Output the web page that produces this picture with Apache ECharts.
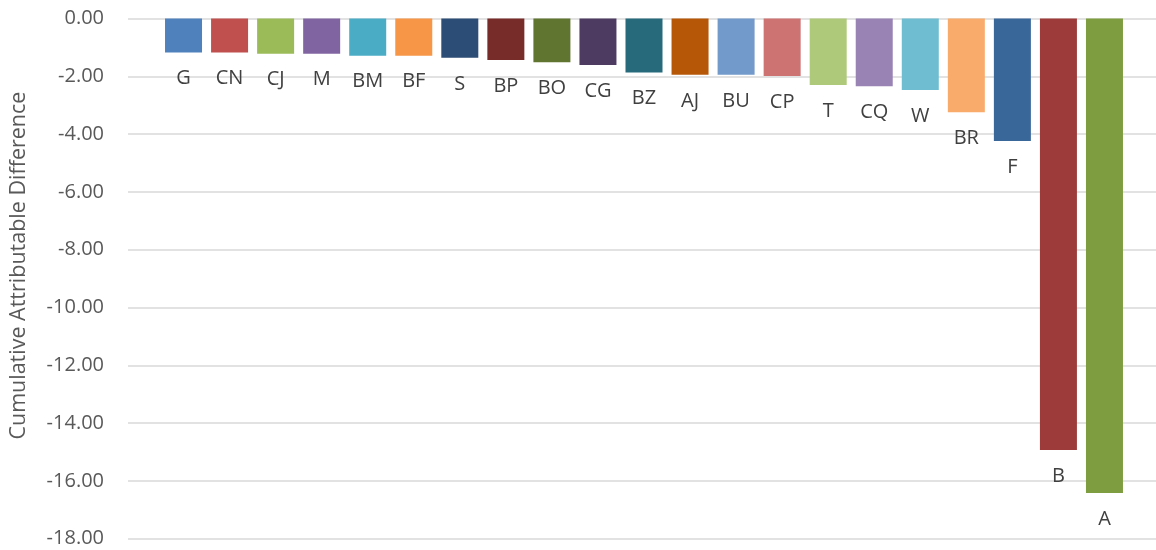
<!DOCTYPE html>
<html><head><meta charset="utf-8">
<script src="https://cdn.jsdelivr.net/npm/echarts@6/dist/echarts.min.js"></script>
<style>html,body{margin:0;padding:0;background:#fff}#c{width:1156px;height:550px}</style>
</head><body><div id="c"></div>
<script>
const categories = ['G','CN','CJ','M','BM','BF','S','BP','BO','CG','BZ','AJ','BU','CP','T','CQ','W','BR','F','B','A'];
const values = [-1.18,-1.18,-1.22,-1.22,-1.29,-1.29,-1.36,-1.44,-1.51,-1.61,-1.87,-1.95,-1.95,-1.99,-2.30,-2.34,-2.47,-3.24,-4.24,-14.93,-16.42];
const barColors = ['#4F81BD','#C0504D','#9BBB59','#8064A2','#4BACC6','#F79646','#2C4D75','#772C2A','#5F7530','#4D3B62','#276A7C','#B65708','#729ACA','#CD7371','#AFC97A','#9983B5','#6FBDD1','#F9AB6B','#3A6799','#9C3B39','#7E9D40'];
const yMin = -18, yMax = 0, yStep = 2;
const yTitle = 'Cumulative Attributable Difference';
const font = '"Open Sans", "Noto Sans", sans-serif';

const chart = echarts.init(document.getElementById('c'));
chart.setOption({
  animation: false,
  grid: [
    {left: 126, top: 18.5, width: 1030, height: 520.2},
    {left: 160.5, top: 18.5, width: 967, height: 520.2}
  ],
  xAxis: [
    {gridIndex: 0, type: 'value', show: false, min: 0, max: 1},
    {gridIndex: 1, type: 'category', data: categories, show: false}
  ],
  yAxis: [
    {gridIndex: 0, type: 'value', min: yMin, max: yMax, interval: yStep,
     name: yTitle, nameLocation: 'middle', nameGap: 98,
     nameTextStyle: {fontFamily: font, fontSize: 21.5, color: '#595959', padding: [0, 0, 0, 26]},
     axisLine: {show: false}, axisTick: {show: false},
     axisLabel: {fontFamily: font, fontSize: 20, color: '#595959', margin: 24,
       formatter: v => v.toFixed(2)},
     splitLine: {lineStyle: {color: '#d9d9d9', width: 1.5}}},
    {gridIndex: 1, type: 'value', min: yMin, max: yMax, interval: yStep, show: false, splitLine: {show: false}}
  ],
  series: [{
    type: 'bar', xAxisIndex: 1, yAxisIndex: 1,
    barWidth: 37,
    data: values.map((v, i) => ({value: v, itemStyle: {color: barColors[i]}})),
    label: {show: true, position: 'bottom', distance: 16,
      formatter: p => categories[p.dataIndex],
      fontFamily: font, fontSize: 20, color: '#404040'}
  }]
});
</script></body></html>
